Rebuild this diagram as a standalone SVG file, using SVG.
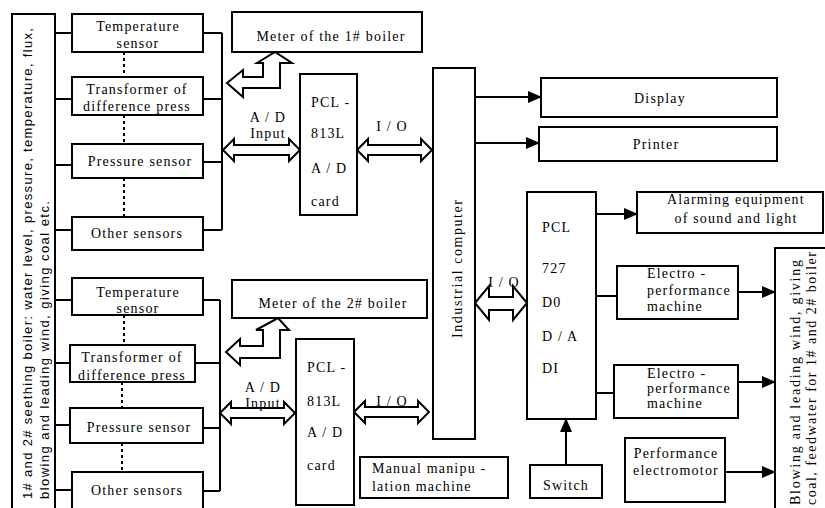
<svg xmlns="http://www.w3.org/2000/svg" width="825" height="508" viewBox="0 0 825 508">
<style>
.b{fill:#fff;stroke:#000;stroke-width:2}
.t{font-family:"Liberation Serif","Times New Roman",serif;font-size:14px;letter-spacing:1.2px;fill:#000}
.c{text-anchor:middle}
.l{fill:none;stroke:#000;stroke-width:2}
.d{fill:none;stroke:#000;stroke-width:2;stroke-dasharray:3 3}
.h{fill:#fff;stroke:#000;stroke-width:2;stroke-linejoin:miter}
.v{font-family:"Liberation Sans",Arial,sans-serif;font-size:13px;fill:#000}
</style>
<defs>
<marker id="ar" markerUnits="userSpaceOnUse" markerWidth="14" markerHeight="12" refX="13" refY="6" orient="auto">
<path d="M0,0 L14,6 L0,12 z" fill="#000"/>
</marker>
</defs>
<rect width="825" height="508" fill="#fff"/>

<g id="connectors">
<path class="l" d="M55,33H72 M55,99H72 M55,165H72 M55,230H72"/>
<path class="l" d="M203,33H222 M203,99H222 M203,162H222 M203,230H222 M222,33V230"/>
<path class="d" d="M124,52V77 M124,115V144 M124,178V217"/>
<path class="l" d="M55,300H72 M55,363H70 M55,425H70 M55,490H72"/>
<path class="l" d="M203,300H220 M195,363H220 M203,428H220 M203,491H220 M220,300V491"/>
<path class="d" d="M124,315V345 M122,382V408 M122,443V472"/>
<path class="h" d="M227,83 L243,70 L243,77 L263,77 L263,63 L257,63 L275,52 L292,63 L280,63 L280,88 L243,88 L243,97 Z"/>
<path class="h" d="M226,352 L240,339 L240,346 L263,346 L263,330 L256,330 L278,318 L289,330 L280,330 L280,358 L240,358 L240,365 Z"/>
<path class="h" d="M223,150 L234,139 L234,145 L289,145 L289,139 L300,150 L289,161 L289,155 L234,155 L234,161 Z"/>
<path class="h" d="M357,150 L368,139 L368,145 L421,145 L421,139 L432,150 L421,161 L421,155 L368,155 L368,161 Z"/>
<path class="h" d="M220,413 L231,402 L231,408 L284,408 L284,402 L295,413 L284,424 L284,418 L231,418 L231,424 Z"/>
<path class="h" d="M354,412 L365,401 L365,407 L418,407 L418,401 L429,412 L418,423 L418,417 L365,417 L365,423 Z"/>
<path class="h" d="M475,303 L489,286 L489,297 L513,297 L513,286 L527,303 L513,320 L513,310 L489,310 L489,320 Z"/>
<path class="l" d="M475,97H541" marker-end="url(#ar)"/>
<path class="l" d="M475,143H539" marker-end="url(#ar)"/>
<path class="l" d="M596,214H637" marker-end="url(#ar)"/>
<path class="l" d="M596,296H617"/>
<path class="l" d="M596,393H614"/>
<path class="l" d="M738,292H775" marker-end="url(#ar)"/>
<path class="l" d="M738,382H775" marker-end="url(#ar)"/>
<path class="l" d="M725,472H775" marker-end="url(#ar)"/>
<path class="l" d="M566,465V419" marker-end="url(#ar)"/>
</g>

<g id="boiler-params">
<rect class="b" x="12" y="14" width="43" height="500"/>
<text class="v" transform="translate(32,499) rotate(-90)" textLength="471" lengthAdjust="spacing">1# and 2# seething boiler: water level, pressure, temperature, flux,</text>
<text class="v" transform="translate(49,499) rotate(-90)" textLength="298" lengthAdjust="spacing">blowing and leading wind, giving coal etc.</text>
</g>

<g id="temp-sensor-1"><rect class="b" x="72" y="14" width="131" height="38"/>
<text class="t c" x="138" y="31">Temperature</text><text class="t c" x="138" y="48">sensor</text></g>
<g id="transformer-1"><rect class="b" x="72" y="77" width="131" height="38"/>
<text class="t c" x="137" y="94">Transformer of</text><text class="t c" x="137" y="111">difference press</text></g>
<g id="pressure-sensor-1"><rect class="b" x="72" y="144" width="131" height="34"/>
<text class="t c" x="140" y="166">Pressure sensor</text></g>
<g id="other-sensors-1"><rect class="b" x="72" y="217" width="131" height="33"/>
<text class="t c" x="137" y="238">Other sensors</text></g>

<g id="temp-sensor-2"><rect class="b" x="72" y="278" width="131" height="37"/>
<text class="t c" x="138" y="297">Temperature</text><text class="t c" x="138" y="313">sensor</text></g>
<g id="transformer-2"><rect class="b" x="70" y="345" width="125" height="37"/>
<text class="t c" x="132" y="362">Transformer of</text><text class="t c" x="132" y="380">difference press</text></g>
<g id="pressure-sensor-2"><rect class="b" x="70" y="408" width="133" height="35"/>
<text class="t c" x="139" y="432">Pressure sensor</text></g>
<g id="other-sensors-2"><rect class="b" x="72" y="472" width="131" height="45"/>
<text class="t c" x="137" y="495">Other sensors</text></g>

<g id="meter-1"><rect class="b" x="232" y="12" width="190" height="40"/>
<text class="t c" x="331" y="41">Meter of the 1# boiler</text></g>
<g id="meter-2"><rect class="b" x="232" y="280" width="195" height="38"/>
<text class="t c" x="333" y="308">Meter of the 2# boiler</text></g>

<g id="labels">
<text class="t c" x="268" y="122">A / D</text><text class="t c" x="268" y="138">Input</text>
<text class="t c" x="392" y="131">I / O</text>
<text class="t c" x="263" y="392">A / D</text><text class="t c" x="263" y="408">Input</text>
<text class="t c" x="392" y="406">I / O</text>
<text class="t c" x="504" y="287">I / O</text>
</g>

<g id="pcl813-1"><rect class="b" x="300" y="74" width="57" height="141"/>
<text class="t" x="311" y="107">PCL -</text><text class="t" x="311" y="138">813L</text>
<text class="t" x="311" y="173">A / D</text><text class="t" x="311" y="206">card</text></g>
<g id="pcl813-2"><rect class="b" x="296" y="339" width="58" height="166"/>
<text class="t" x="307" y="372">PCL -</text><text class="t" x="307" y="406">813L</text>
<text class="t" x="307" y="437">A / D</text><text class="t" x="307" y="470">card</text></g>

<g id="industrial-computer"><rect class="b" x="433" y="68" width="42" height="371"/>
<text class="t c" transform="translate(462,269) rotate(-90)" textLength="138" lengthAdjust="spacing" style="letter-spacing:0">Industrial computer</text></g>

<g id="display"><rect class="b" x="541" y="78" width="236" height="39"/>
<text class="t c" x="660" y="103">Display</text></g>
<g id="printer"><rect class="b" x="539" y="127" width="238" height="34"/>
<text class="t c" x="656" y="149">Printer</text></g>

<g id="pcl727"><rect class="b" x="527" y="192" width="69" height="227"/>
<text class="t" x="542" y="232">PCL</text><text class="t" x="542" y="273">727</text>
<text class="t" x="542" y="307">D0</text><text class="t" x="542" y="341">D / A</text>
<text class="t" x="542" y="373">DI</text></g>

<g id="alarm"><rect class="b" x="637" y="192" width="186" height="41"/>
<text class="t c" x="736" y="204">Alarming equipment</text><text class="t c" x="736" y="223">of sound and light</text></g>

<g id="electro-1"><rect class="b" x="617" y="266" width="121" height="53"/>
<text class="t" x="647" y="278">Electro -</text><text class="t" x="647" y="295">performance</text><text class="t" x="647" y="311">machine</text></g>
<g id="electro-2"><rect class="b" x="614" y="365" width="124" height="53"/>
<text class="t" x="647" y="378">Electro -</text><text class="t" x="647" y="393">performance</text><text class="t" x="647" y="408">machine</text></g>
<g id="electromotor"><rect class="b" x="625" y="438" width="100" height="64"/>
<text class="t c" x="676" y="458">Performance</text><text class="t c" x="676" y="475">electromotor</text></g>

<g id="switch"><rect class="b" x="530" y="465" width="72" height="33"/>
<text class="t c" x="566" y="490">Switch</text></g>
<g id="manual"><rect class="b" x="360" y="457" width="148" height="41"/>
<text class="t" x="372" y="473">Manual manipu -</text><text class="t" x="372" y="491">lation machine</text></g>

<g id="blowing"><rect class="b" x="775" y="248" width="60" height="270"/>
<text class="t" transform="translate(800,505) rotate(-90)" textLength="245" lengthAdjust="spacing" style="letter-spacing:0">Blowing and leading wind, giving</text>
<text class="t" transform="translate(816,505) rotate(-90)" textLength="253" lengthAdjust="spacing" style="letter-spacing:0">coal, feedwater for 1# and 2# boiler</text></g>
</svg>
